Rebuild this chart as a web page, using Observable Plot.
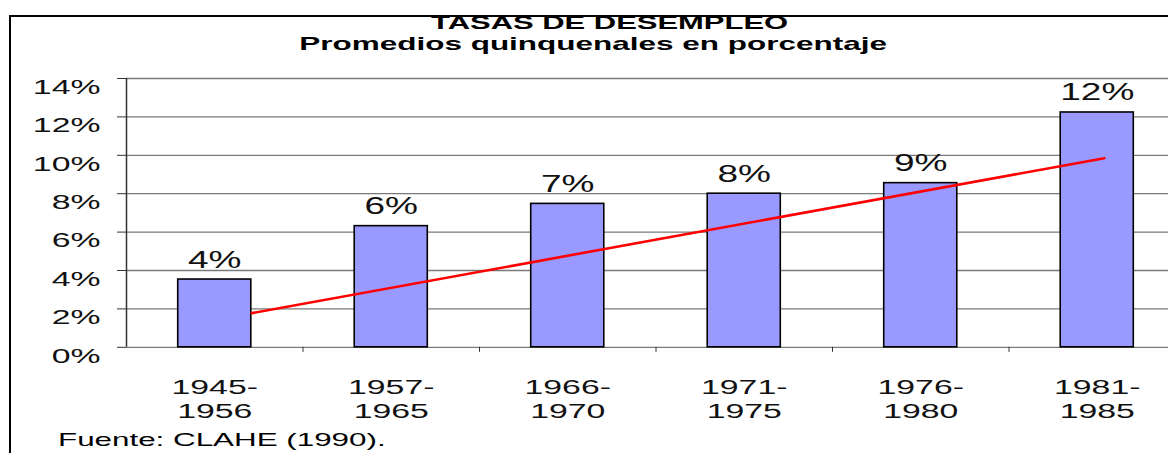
<!DOCTYPE html>
<html><head><meta charset="utf-8">
<script src="https://cdn.jsdelivr.net/npm/d3@7"></script>
<script src="https://cdn.jsdelivr.net/npm/@observablehq/plot@0.6"></script>
<style>
html,body{margin:0;padding:0;background:#fff;overflow:hidden;width:1168px;height:453px;}
#wrap{position:relative;width:1168px;height:453px;font-family:"Liberation Sans",Arial,sans-serif;color:#000;overflow:hidden;}
#frame{position:absolute;left:9px;top:15px;width:2000px;height:1000px;border-left:2px solid #000;border-top:2px solid #000;}
#head{position:relative;height:55px;}
.ttl{position:absolute;width:1000px;text-align:center;font-weight:bold;line-height:1;white-space:nowrap;}
.ttl span,#caption span{display:inline-block;}
#title{left:110px;top:14.9px;font-size:17.8px;}
#title span{transform:scaleX(1.74);}
#subtitle{left:93px;top:35.5px;font-size:17.7px;}
#subtitle span{transform:scaleX(1.78);}
#chart{position:relative;width:1190px;}
#chart svg{display:block;}
#caption{position:absolute;left:58px;top:430px;font-size:19px;line-height:1;white-space:nowrap;}
#caption span{transform:scaleX(1.65);transform-origin:left center;}
</style></head>
<body>
<div id="wrap">
  <div id="frame"></div>
  <div id="head">
    <div class="ttl" id="title"><span>TASAS DE DESEMPLEO</span></div>
    <div class="ttl" id="subtitle"><span>Promedios quinquenales en porcentaje</span></div>
  </div>
  <div id="chart"></div>
  <div id="caption"><span>Fuente: CLAHE (1990).</span></div>
</div>
<script>
const categories = ["1945-1956", "1957-1965", "1966-1970", "1971-1975", "1976-1980", "1981-1985"];
const values = [3.53, 6.31, 7.47, 8.0, 8.55, 12.23];
const valueLabels = ["4%", "6%", "7%", "8%", "9%", "12%"];
const yTicks = [0, 2, 4, 6, 8, 10, 12, 14];
const trendX = [1.21, 6.04];
const trendY = [1.78, 9.85];

const data = categories.map((c, i) => ({periodo: c, pos: i + 1, value: values[i], label: valueLabels[i]}));
const trend = trendX.map((x, i) => ({x, y: trendY[i]}));
const xDomain = [0.5, categories.length + 0.5];
const boundaries = d3.range(1.5, categories.length, 1);
const half = 0.207;
const font = "'Liberation Sans', Arial, sans-serif";

const plot = Plot.plot({
  width: 1190,
  height: 375,
  marginTop: 23,
  marginBottom: 83.2,
  marginLeft: 126,
  marginRight: 5,
  style: {fontFamily: font, fontSize: "21px", color: "#000", background: "transparent", overflow: "visible"},
  x: {domain: xDomain, axis: null},
  y: {domain: [0, 14], axis: null},
  marks: [
    Plot.gridY(yTicks, {stroke: "#7a7a7a", strokeOpacity: 1, strokeWidth: 1.3}),
    Plot.axisY({ticks: yTicks, tickSize: 9, tickFormat: () => "", stroke: "#333"}),
    Plot.text(yTicks, {y: d => d, text: d => d + "%", frameAnchor: "left", textAnchor: "end", dx: -26, dy: 8.5, fontSize: 21, fill: "#111"}),
    Plot.axisX({ticks: boundaries, tickSize: 5, tickFormat: () => "", stroke: "#333"}),
    Plot.ruleX([xDomain[0]], {stroke: "#333", strokeWidth: 1.5}),
    Plot.rect(data, {x1: d => d.pos - half, x2: d => d.pos + half, y1: 0, y2: "value", fill: "#9999ff", stroke: "#000", strokeWidth: 1.6}),
    Plot.line(trend, {x: "x", y: "y", stroke: "#ff0000", strokeWidth: 2.6}),
    Plot.text(data, {x: "pos", y: "value", text: "label", lineAnchor: "bottom", dy: -12, fontSize: 23, fill: "#111"}),
    Plot.text(data, {x: "pos", text: d => d.periodo.replace("-", "-\n"), frameAnchor: "bottom", lineAnchor: "top", dy: 29.6, lineHeight: 1.14, fontSize: 21, fill: "#111"})
  ]
});

plot.querySelectorAll("text").forEach(t => {
  let tr = t.getAttribute("transform");
  if (!tr) {
    const x = parseFloat(t.getAttribute("x")) || 0;
    const y = parseFloat(t.getAttribute("y")) || 0;
    t.removeAttribute("x");
    t.removeAttribute("y");
    tr = `translate(${x},${y})`;
  }
  t.setAttribute("transform", tr + " scale(1.61,1)");
});

document.getElementById("chart").appendChild(plot);
</script>
</body></html>
